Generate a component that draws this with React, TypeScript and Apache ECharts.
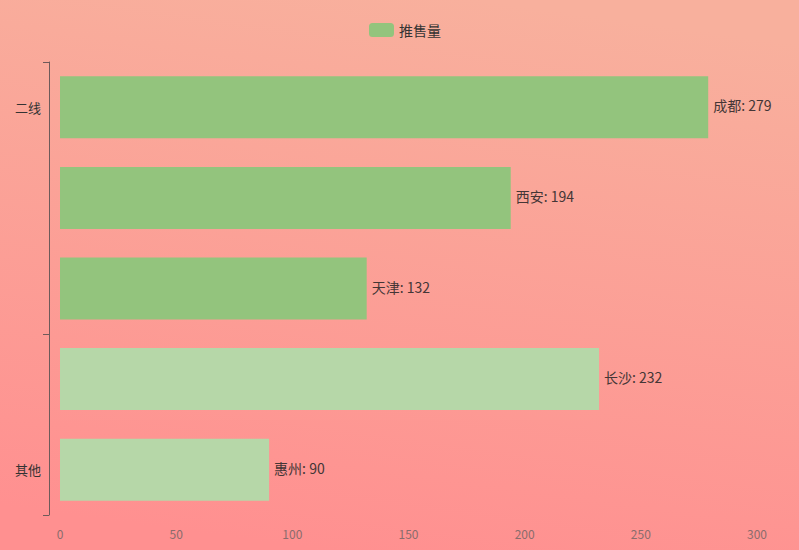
import React, { useEffect, useRef } from "react";
import * as echarts from "echarts";

const cities = ["成都", "西安", "天津", "长沙", "惠州"];
const groups = ["二线", "二线", "二线", "其他", "其他"];
const values = [279, 194, 132, 232, 90];
const seriesName = "推售量";
const xTicks = [0, 50, 100, 150, 200, 250, 300];
const groupLabelIndex = [0, 4];
const groupTickIndex = [0, 3];
const colorMain = "#93c47d";
const colorLight = "#b6d7a8";

export default function App() {
  const ref = useRef<HTMLDivElement>(null);
  useEffect(() => {
    const chart = echarts.init(ref.current!, null, { renderer: "svg" });
    const font = "'Microsoft YaHei', 'Noto Sans CJK SC', sans-serif";
    chart.setOption({
      animation: false,
      backgroundColor: new echarts.graphic.LinearGradient(0.6, 0, 0.4, 1, [
        { offset: 0, color: "#f8b09d" },
        { offset: 1, color: "#ff9090" },
      ]),
      textStyle: { fontFamily: font },
      legend: {
        top: 18,
        left: 364,
        itemWidth: 25,
        itemHeight: 14,
        textStyle: { fontSize: 14, color: "#333", fontFamily: font },
        data: [{ name: seriesName, itemStyle: { color: colorMain } }],
      },
      grid: { left: 60, right: 42, top: 62, bottom: 35, containLabel: false },
      xAxis: {
        type: "value",
        min: xTicks[0],
        max: xTicks[xTicks.length - 1],
        interval: 50,
        axisLine: { show: false },
        axisTick: { show: false },
        splitLine: { show: false },
        axisLabel: { color: "#8a6c6c", fontSize: 12, margin: 12, fontFamily: font },
      },
      yAxis: {
        type: "category",
        inverse: true,
        data: cities,
        offset: 11,
        axisLine: { show: true, onZero: false, lineStyle: { color: "#6e5a5a" } },
        axisTick: {
          show: true,
          length: 6,
          lineStyle: { color: "#6e5a5a" },
          interval: (i: number) => groupTickIndex.includes(i),
        },
        axisLabel: {
          color: "#333",
          fontSize: 13,
          margin: 8,
          padding: [0, 0, 5, 0],
          fontFamily: font,
          interval: (i: number) => groupLabelIndex.includes(i),
          formatter: (_v: string, i: number) => groups[i],
        },
      },
      series: [
        {
          name: seriesName,
          type: "bar",
          barWidth: 62,
          data: values.map((v, i) => ({
            value: v,
            itemStyle: { color: groups[i] === "二线" ? colorMain : colorLight },
          })),
          itemStyle: { color: colorMain },
          label: {
            show: true,
            position: "right",
            distance: 5,
            offset: [0, -2],
            color: "#443636",
            fontSize: 14,
            fontFamily: font,
            formatter: "{b}: {c}",
          },
        },
      ],
    });
    return () => chart.dispose();
  }, []);
  return (
    <div
      ref={ref}
      style={{ position: "absolute", left: 0, top: 0, width: 799, height: 550 }}
    />
  );
}
